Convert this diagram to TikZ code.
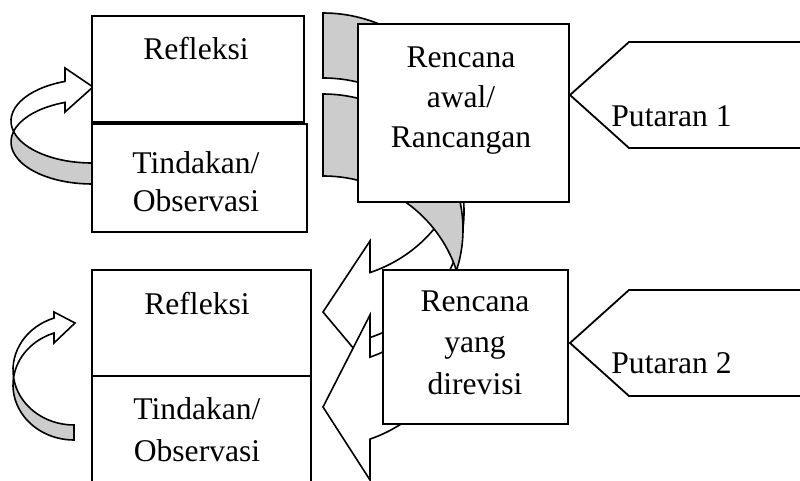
\documentclass[tikz,border=0pt]{standalone}
\usepackage{fontspec}
\setmainfont{Liberation Serif}
\begin{document}
\begin{tikzpicture}[x=0.5pt, y=-0.5pt,
  box/.style={draw=black, fill=white, line width=0.9pt},
  back/.style={draw=black, fill=black!20, line width=0.8pt},
  front/.style={draw=black, fill=white, line width=0.8pt},
  lbl/.style={font=\fontsize{15.8}{19}\selectfont, anchor=base, inner sep=0pt}]
\useasboundingbox (0,0) rectangle (800,481);
\clip (0,0) rectangle (800,481);

% ---- curved arrow, upper left (back face below, head pointing right)
\coordinate (tlC1) at (92,121);
\path (tlC1) ++(165.52:81 and 42) coordinate (tlP);
\path (tlC1) ++(250.53:81 and 42) coordinate (tlHu);
\draw[back] (tlP) arc[start angle=165.52, end angle=90, x radius=81, y radius=42]
  -- ++(0,21) arc[start angle=90, end angle=194.48, x radius=81, y radius=42] -- cycle;
\draw[front] (tlP) arc[start angle=194.48, end angle=250.53, x radius=81, y radius=42]
  -- (65,112) -- (93,87) -- (65,68) -- (tlHu)
  arc[start angle=250.53, end angle=165.52, x radius=81, y radius=42] -- cycle;

% ---- curved arrow, lower left
\coordinate (blC1) at (74,370);
\path (blC1) ++(172.16:61 and 55) coordinate (blP);
\path (blC1) ++(250.86:61 and 55) coordinate (blHu);
\draw[back] (blP) arc[start angle=172.16, end angle=90, x radius=61, y radius=55]
  -- ++(0,15) arc[start angle=90, end angle=187.84, x radius=61, y radius=55] -- cycle;
\draw[front] (blP) arc[start angle=187.84, end angle=250.86, x radius=61, y radius=55]
  -- (54,343) -- (75,323) -- (54,312) -- (blHu)
  arc[start angle=250.86, end angle=172.16, x radius=61, y radius=55] -- cycle;

% ---- large curved arrow from the first plan (behind the boxes)
\coordinate (aCa) at (323,146.6);
\path (aCa) ++(14.08:141 and 133.6) coordinate (aP);
\path (aCa) ++(70.53:141 and 133.6) coordinate (aHu);
\draw[back] (323,13) arc[start angle=270, end angle=374.08, x radius=141, y radius=133.6]
  arc[start angle=345.92, end angle=270, x radius=141, y radius=133.6] -- cycle;
\draw[front] (aP) arc[start angle=-14.08, end angle=70.53, x radius=141, y radius=133.6]
  -- (370,368) -- (323,312) -- (370,241) -- (aHu)
  arc[start angle=70.53, end angle=14.08, x radius=141, y radius=133.6] -- cycle;

% ---- large curved arrow from the revised plan
\coordinate (bCa) at (323,229.5);
\path (bCa) ++(17.61:140 and 135.5) coordinate (bP);
\path (bCa) ++(70.38:140 and 135.5) coordinate (bHu);
\draw[back] (323,94) arc[start angle=270, end angle=377.61, x radius=140, y radius=135.5]
  arc[start angle=342.39, end angle=270, x radius=140, y radius=135.5] -- cycle;
\draw[front] (bP) arc[start angle=-17.61, end angle=70.38, x radius=140, y radius=135.5]
  -- (370,480) -- (323,407) -- (370,315) -- (bHu)
  arc[start angle=70.38, end angle=17.61, x radius=140, y radius=135.5] -- cycle;

% ---- cycle boxes
\draw[box] (92,16) rectangle (304,122);
\draw[box] (92,124) rectangle (307,232);
\draw[box] (92,270) rectangle (311,376);
\draw[box] (92,376) rectangle (311,500);
\draw[box] (358,24) rectangle (569,202);
\draw[box] (383,270) rectangle (568,424);

% ---- round labels
\draw[box] (570,95) -- (629,42) -- (810,42) -- (810,148) -- (629,148) -- cycle;
\draw[box] (570,343) -- (629,290) -- (810,290) -- (810,396) -- (629,396) -- cycle;

% ---- texts
\node[lbl] (refl1) at (196,60) {Refleksi};
\node[lbl] (tind1a) at (196,174) {Tindakan/};
\node[lbl] (tind1b) at (196,212) {Observasi};
\node[lbl] (refl2) at (197,315) {Refleksi};
\node[lbl] (tind2a) at (197,420) {Tindakan/};
\node[lbl] (tind2b) at (197,462) {Observasi};
\node[lbl] (ren1a) at (461,68) {Rencana};
\node[lbl] (ren1b) at (461,108) {awal/};
\node[lbl] (ren1c) at (461,148) {Rancangan};
\node[lbl] (ren2a) at (475,312) {Rencana};
\node[lbl] (ren2b) at (475,353) {yang};
\node[lbl] (ren2c) at (475,395) {direvisi};
\node[lbl, anchor=base west] (put1) at (611,127) {Putaran 1};
\node[lbl, anchor=base west] (put2) at (611,374) {Putaran 2};
\end{tikzpicture}
\end{document}
